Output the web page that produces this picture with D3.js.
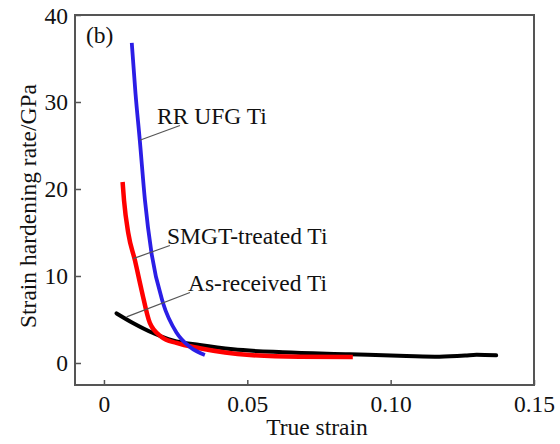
<!DOCTYPE html>
<html><head><meta charset="utf-8">
<script src="https://cdn.jsdelivr.net/npm/d3@7"></script>
</head><body style="margin:0;background:#fff"><svg id="c" width="560" height="444"></svg>
<script>
const xTicks = [0, 0.05, 0.10, 0.15];
const xTickLabels = ["0", "0.05", "0.10", "0.15"];
const yTicks = [0, 10, 20, 30, 40];
const seriesNames = ["RR UFG Ti", "SMGT-treated Ti", "As-received Ti"];
const rrStrain   = [0.0097, 0.0110, 0.0125, 0.0143, 0.0166, 0.0206, 0.0254, 0.0300, 0.0352];
const rrRate     = [36.8,   31.0,   25.6,   18.7,   12.6,   6.9,    3.45,   1.84,   0.92];
const smgtStrain = [0.0065, 0.0070, 0.0085, 0.0108, 0.0131, 0.0160, 0.0201, 0.0253, 0.0334, 0.0509, 0.0680, 0.0868];
const smgtRate   = [20.8,   18.7,   14.9,   11.8,   8.4,    4.6,    3.0,    2.3,    1.7,    0.92,   0.72,   0.69];
const asStrain   = [0.0044, 0.0101, 0.0171, 0.0240, 0.0334, 0.0450, 0.0624, 0.0857, 0.1055, 0.1170, 0.1260, 0.1300, 0.1368];
const asRate     = [5.7,    4.6,    3.45,   2.6,    2.07,   1.57,   1.23,   1.0,    0.8,    0.72,   0.85,   0.95,   0.88];
// annotation anchors: label position and leader-line endpoints, in data units
const labelX   = [0.0185, 0.0220, 0.0293];
const labelY   = [27.5,   13.7,   8.3];
const leadFromX= [0.0265, 0.0230, 0.0300];
const leadFromY= [27.3,   13.5,   8.1];
const leadToX  = [0.0125, 0.0102, 0.0079];
const leadToY  = [25.6,   12.0,   5.3];

const svg = d3.select("#c");
const L = 75, R = 534, T = 15, B = 385;
const x = d3.scaleLinear().domain([-0.0101, 0.15]).range([L, R]);
const y = d3.scaleLinear().domain([-2.53, 40]).range([B, T]);
const FS = 23.5;

const frameCol = "#555";
const yAx = svg.append("g").attr("transform", `translate(${L},0)`)
  .call(d3.axisLeft(y).tickValues(yTicks).tickSize(-6).tickPadding(7).tickFormat(d3.format("d")));
yAx.select(".domain").remove();
yAx.selectAll("line").attr("stroke", frameCol).attr("stroke-width", 1.5);
yAx.selectAll("text").attr("font-size", FS).attr("dy", "0.34em");
const xAx = svg.append("g").attr("transform", `translate(0,${B})`)
  .call(d3.axisBottom(x).tickValues(xTicks).tickSize(-5).tickPadding(10).tickFormat((d,i)=>xTickLabels[i]));
xAx.select(".domain").remove();
xAx.selectAll("line").attr("stroke", frameCol).attr("stroke-width", 1.5);
xAx.selectAll("text").attr("font-size", FS);

svg.append("rect").attr("x", L).attr("y", T).attr("width", R - L).attr("height", B - T)
  .attr("fill", "none").attr("stroke", frameCol).attr("stroke-width", 2);

const line = d3.line().x(d => x(d[0])).y(d => y(d[1])).curve(d3.curveMonotoneX);
const zip = (a, b) => a.map((v, i) => [v, b[i]]);
svg.append("path").datum(zip(asStrain, asRate)).attr("d", line)
  .attr("fill", "none").attr("stroke", "#000").attr("stroke-width", 4).attr("stroke-linecap", "round");
svg.append("path").datum(zip(smgtStrain, smgtRate)).attr("d", line)
  .attr("fill", "none").attr("stroke", "#f00").attr("stroke-width", 4.5).attr("stroke-linecap", "butt");
svg.append("path").datum(zip(rrStrain, rrRate)).attr("d", line)
  .attr("fill", "none").attr("stroke", "#2b1ee6").attr("stroke-width", 3.8).attr("stroke-linecap", "butt");

seriesNames.forEach((n, i) => {
  svg.append("line").attr("x1", x(leadFromX[i])).attr("y1", y(leadFromY[i]))
    .attr("x2", x(leadToX[i])).attr("y2", y(leadToY[i]))
    .attr("stroke", "#555").attr("stroke-width", 1.2);
  svg.append("text").attr("x", x(labelX[i])).attr("y", y(labelY[i]))
    .attr("font-size", FS).text(n);
});

svg.append("text").attr("x", 86).attr("y", 43).attr("font-size", FS).text("(b)");
svg.append("text").attr("x", 317).attr("y", 435).attr("text-anchor", "middle").attr("font-size", FS).text("True strain");
svg.append("text").attr("transform", "translate(36,206) rotate(-90)").attr("text-anchor", "middle")
  .attr("font-size", FS).text("Strain hardening rate/GPa");

svg.selectAll("text").style("font-family", '"Liberation Serif"').style("fill", "#111");
</script></body></html>
